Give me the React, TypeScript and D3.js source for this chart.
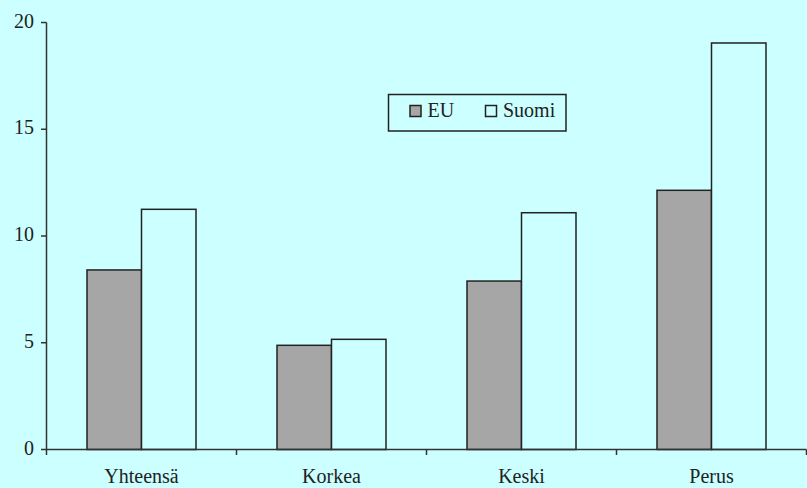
import React from "react";
import * as d3 from "d3";

const categories = ["Yhteensä", "Korkea", "Keski", "Perus"];
const seriesNames = ["EU", "Suomi"];
const euValues = [8.41, 4.88, 7.89, 12.14];
const suomiValues = [11.25, 5.16, 11.09, 19.04];
const yTicks = [0, 5, 10, 15, 20];

const W = 807;
const H = 488;
const BG = "#ccffff";
const EU_FILL = "#a6a6a6";
const INK = "#222222";
const FONT = "'Liberation Serif', 'Times New Roman', serif";

export default function App() {
  const x = d3.scaleBand<string>().domain(categories).range([46.5, 806.5]).paddingInner(0).paddingOuter(0);
  const y = d3.scaleLinear().domain([0, 20]).range([449.5, 22.5]);
  const inner = d3.scaleBand<string>().domain(seriesNames).range([0, x.bandwidth()]).paddingInner(0).paddingOuter(0.2135 / (1 - 0.2135) / 2 * 2);
  const data = [euValues, suomiValues];
  const fills = [EU_FILL, BG];
  const barW = 54.5;
  const pairW = barW * 2;

  return (
    <svg width={W} height={H} style={{ position: "absolute", left: 0, top: 0, display: "block", background: BG }}>
      <rect x={0} y={0} width={W} height={H} fill={BG} />
      {/* bars */}
      {categories.map((c, i) =>
        seriesNames.map((s, j) => {
          const x0 = (x(c) as number) + (x.bandwidth() - pairW) / 2 + j * barW;
          const v = data[j][i];
          return (
            <rect
              key={c + s}
              x={x0}
              y={y(v)}
              width={barW}
              height={y(0) - y(v)}
              fill={fills[j]}
              stroke={INK}
              strokeWidth={1.5}
            />
          );
        })
      )}
      {/* y axis */}
      <line x1={46.5} x2={46.5} y1={y(20)} y2={455} stroke="#333" strokeWidth={1.5} />
      {yTicks.map((t) => (
        <g key={t}>
          <line x1={41} x2={46.5} y1={y(t)} y2={y(t)} stroke="#333" strokeWidth={1.5} />
          <text x={34} y={y(t) + 5} textAnchor="end" fontFamily={FONT} fontSize={20} fill={INK}>
            {t}
          </text>
        </g>
      ))}
      {/* x axis */}
      <line x1={46.5} x2={806.5} y1={y(0)} y2={y(0)} stroke="#333" strokeWidth={1.5} />
      {categories.map((c) => (
        <line key={"t" + c} x1={(x(c) as number) + x.bandwidth()} x2={(x(c) as number) + x.bandwidth()} y1={y(0)} y2={455} stroke="#333" strokeWidth={1.5} />
      ))}
      {categories.map((c) => (
        <text key={"l" + c} x={(x(c) as number) + x.bandwidth() / 2} y={483} textAnchor="middle" fontFamily={FONT} fontSize={20} fill={INK}>
          {c}
        </text>
      ))}
      {/* legend */}
      <rect x={388.5} y={94.5} width={177.5} height={36.5} fill={BG} stroke={INK} strokeWidth={1.5} />
      <rect x={410} y={105.5} width={11} height={11} fill={EU_FILL} stroke={INK} strokeWidth={1.5} />
      <text x={427.5} y={116.5} fontFamily={FONT} fontSize={20} fill={INK}>{seriesNames[0]}</text>
      <rect x={485.5} y={105.5} width={11} height={11} fill={BG} stroke={INK} strokeWidth={1.5} />
      <text x={503} y={116.5} fontFamily={FONT} fontSize={20} fill={INK}>{seriesNames[1]}</text>
    </svg>
  );
}
